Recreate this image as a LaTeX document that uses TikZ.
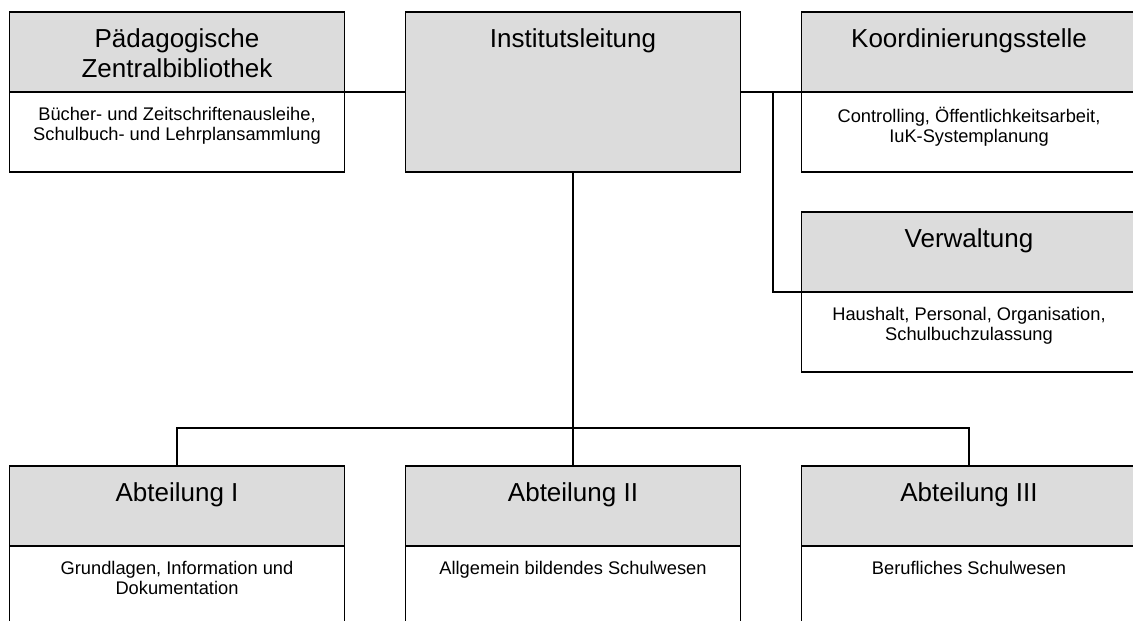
\documentclass[tikz,border=0pt]{standalone}
\usepackage{fontspec}
\setmainfont{Liberation Sans}
\usetikzlibrary{positioning}
\definecolor{headgray}{RGB}{220,220,220}

\begin{document}
\begin{tikzpicture}[
            line width=1.3pt,
            head/.style={draw, fill=headgray, minimum width=8.375cm, minimum height=2cm, inner sep=0pt, outer sep=0pt},
            body/.style={draw, fill=white, minimum width=8.375cm, minimum height=2cm, inner sep=0pt, outer sep=0pt},
            title/.style={anchor=north, align=center, inner sep=0pt, font=\fontsize{18.5}{21.3}\selectfont},
            desc/.style={anchor=north, align=center, inner sep=0pt, font=\fontsize{13}{13.7}\selectfont}
        ]
        \clip (0,0) rectangle (28.325,-15.5);
        
        % Define boxes
        \node[head] (paedH) at (4.425,-1.29) {};
        \node[body, below=0pt of paedH] (paedB) {};
        \node[head, minimum height=4cm, below right=0cm and 1.525cm of paedH.north east] (inst) {};
        \node[head, below right=0cm and 1.525cm of inst.north east] (koordH) {};
        \node[body, below=0pt of koordH] (koordB) {};
        \node[head, below=1cm of koordB] (verwH) {};
        \node[body, below=0pt of verwH] (verwB) {};
        \node[head, below=7.35cm of inst] (abt2H) {};
        \node[head, left=1.525cm of abt2H] (abt1H) {};
        \node[head, right=1.525cm of abt2H] (abt3H) {};
        \node[body, minimum height=3cm, below=0pt of abt1H] (abt1B) {};
        \node[body, minimum height=3cm, below=0pt of abt2H] (abt2B) {};
        \node[body, minimum height=3cm, below=0pt of abt3H] (abt3B) {};
        
        % Titles and tasks
        \node[title] (paedT) at ([yshift=-0.4cm]paedH.north) {Pädagogische\\Zentralbibliothek};
        \node[desc] (paedD) at ([yshift=-0.375cm]paedB.north) {Bücher- und Zeitschriftenausleihe,\\Schulbuch- und Lehrplansammlung};
        \node[title] (instT) at ([yshift=-0.4cm]inst.north) {Institutsleitung};
        \node[title] (koordT) at ([yshift=-0.4cm]koordH.north) {Koordinierungsstelle};
        \node[desc] (koordD) at ([yshift=-0.375cm]koordB.north) {Controlling, Öffentlichkeitsarbeit,\\IuK-Systemplanung};
        \node[title] (verwT) at ([yshift=-0.4cm]verwH.north) {Verwaltung};
        \node[desc] (verwD) at ([yshift=-0.375cm]verwB.north) {Haushalt, Personal, Organisation,\\Schulbuchzulassung};
        \node[title] (abt1T) at ([yshift=-0.4cm]abt1H.north) {Abteilung I};
        \node[desc] (abt1D) at ([yshift=-0.375cm]abt1B.north) {Grundlagen, Information und\\Dokumentation};
        \node[title] (abt2T) at ([yshift=-0.4cm]abt2H.north) {Abteilung II};
        \node[desc] (abt2D) at ([yshift=-0.375cm]abt2B.north) {Allgemein bildendes Schulwesen};
        \node[title] (abt3T) at ([yshift=-0.4cm]abt3H.north) {Abteilung III};
        \node[desc] (abt3D) at ([yshift=-0.375cm]abt3B.north) {Berufliches Schulwesen};
        
        % Draw connections
        \coordinate (split) at (19.325,-2.29);
        \coordinate (bus) at (14.325,-10.7);
        \draw (paedH.south east) -- (paedH.south east -| inst.west);
        \draw (inst.east |- koordH.south) -- (koordH.south west);
        \draw (split) |- (verwH.south west);
        \draw (inst.south) -- (abt2H.north);
        \draw (abt1H.north) |- (bus) -| (abt3H.north);
        \end{tikzpicture}
\end{document}
